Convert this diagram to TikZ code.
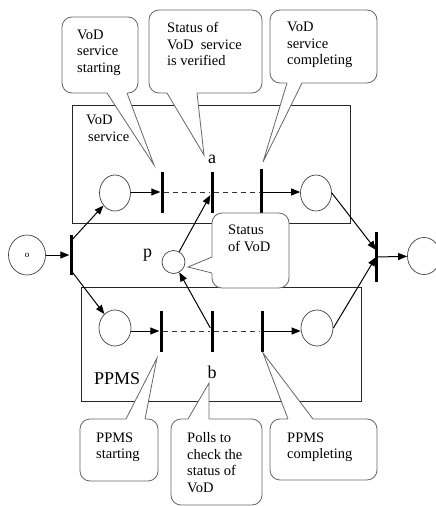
\documentclass[tikz,border=0pt]{standalone}
\usepackage{fontspec}
\setmainfont{Liberation Serif}
\usetikzlibrary{arrows.meta,calc,shapes.geometric}

\tikzset{
  place/.style={draw=black!75, ellipse, line width=0.7pt, inner sep=0pt,
                minimum width=31pt, minimum height=36pt},
  trans/.style={fill=black, rectangle, inner sep=0pt,
                minimum width=3pt, minimum height=41pt},
  arr/.style={-{Triangle[length=9pt,width=7pt]}, line width=1pt},
  link/.style={line width=1pt, black!80, dash pattern=on 5pt off 4pt},
  frame/.style={draw=black!85, line width=0.8pt},
  bubble/.style={draw=black!60, fill=white, line width=0.8pt, rounded corners=10pt},
  tail/.style={draw=black!60, line width=0.8pt},
  txt/.style={font=\fontsize{14.5}{16.5}\selectfont, align=left,
              anchor=north west, inner sep=0pt},
  big/.style={font=\fontsize{18}{20}\selectfont, inner sep=0pt}
}

\begin{document}
\begin{tikzpicture}[x=1pt,y=-1pt]
\useasboundingbox (0,0) rectangle (436,506);

% subsystem frames
\draw[frame] (72,105) rectangle (350,223);
\draw[frame] (81,287) rectangle (361,401);
\node[txt, anchor=north west] (vodlbl) at (86,115) {VoD\\\hspace{2pt}service};
\node[big, anchor=base west] (ppmslbl) at (94,384) {PPMS};

% places
\node[place, minimum width=37pt, minimum height=40pt] (pin) at (27,255)
  {\fontsize{9}{9}\selectfont o};
\node[place] (pu1) at (115,193) {};
\node[place] (pu2) at (316,193) {};
\node[place, minimum width=32pt] (pl1) at (115,328) {};
\node[place, minimum width=32pt] (pl2) at (317,328) {};
\node[place, minimum width=33pt, minimum height=37pt] (pout) at (424,256) {};
\node[place, ellipse, minimum width=23pt, minimum height=23pt] (p) at (173.5,262) {};

% transitions
\node[trans, minimum height=40pt] (tl) at (71,255) {};
\node[trans] (tu1) at (162,192) {};
\node[trans] (tu2) at (212,192) {};
\node[trans, minimum height=44pt] (tu3) at (261,191) {};
\node[trans] (tb1) at (161,331) {};
\node[trans] (tb2) at (212,331) {};
\node[trans] (tb3) at (262,331) {};
\node[trans, minimum height=50pt] (tr) at (376,257) {};

% arcs
\draw[arr] (pin) -- (tl);
\draw[arr] ($(tl.north)!0.15!(tl.south)$) -- (pu1);
\draw[arr] ($(tl.north)!0.88!(tl.south)$) -- (pl1);
\draw[arr] (pu1.east |- tu1) -- (tu1);
\draw[link] (tu1) -- (tu2) -- (tu3.center |- tu1);
\draw[arr] (tu3.center |- tu1) -- (pu2.west |- tu1);
\draw[arr] (pl1.east |- tb1) -- (tb1);
\draw[link] (tb1) -- (tb2) -- (tb3);
\draw[arr] (tb3) -- (pl2.west |- tb3);
\draw[arr] (pu2.east) -- ($(tr.north)!0.36!(tr.south)$);
\draw[arr] (pl2.east) -- ($(tr.north)!0.5!(tr.south)$);
\draw[arr] (tr) -- (pout);
\draw[arr] (p) -- (tu2);
\draw[arr] (tb2) -- (p);

% labels
\node[big, anchor=base] (la) at (212,163) {a};
\node[big, anchor=base] (lb) at (212,378) {b};
\node[big, anchor=base] (lp) at (147.5,257) {p};

% speech bubbles
% -- VoD service starting
\draw[bubble] (62,17) rectangle (138,93);
\fill[white] (107,89) -- (107,93) -- (154,165) -- (127,93) -- (127,89) -- cycle;
\draw[tail] (107,93) -- (154,165) -- (127,93);
\node[txt] (c1) at (77,29.5) {VoD\\service\\starting};

% -- status verified
\draw[bubble] (149,10) rectangle (262,93);
\fill[white] (167,89) -- (167,93) -- (204,155) -- (197,93) -- (197,89) -- cycle;
\draw[tail] (167,93) -- (204,155) -- (197,93);
\node[txt] (c2) at (167,22.5) {Status of\\VoD~~service\\is verified};

% -- VoD service completing
\draw[bubble] (270,10) rectangle (377,83);
\fill[white] (287,79) -- (287,83) -- (263,162) -- (302,83) -- (302,79) -- cycle;
\draw[tail] (287,83) -- (263,162) -- (302,83);
\node[txt] (c3) at (287,22) {VoD\\service\\completing};

% -- status of VoD
\draw[bubble] (212,213) rectangle (289,288);
\fill[white] (216,257) -- (212,257) -- (188,267) -- (212,273) -- (216,273) -- cycle;
\draw[tail] (212,257) -- (188,267) -- (212,273);
\node[txt] (c4) at (228,225) {Status\\of VoD};

% -- PPMS starting
\draw[bubble] (80,419) rectangle (158,481);
\fill[white] (126,423) -- (126,419) -- (157,358) -- (145,419) -- (145,423) -- cycle;
\draw[tail] (126,419) -- (157,358) -- (145,419);
\node[txt] (c5) at (96,432.5) {PPMS\\starting};

% -- polls
\draw[bubble] (171,419) rectangle (262,505);
\fill[white] (188,423) -- (188,419) -- (209,383) -- (209,419) -- (209,423) -- cycle;
\draw[tail] (188,419) -- (209,383) -- (209,419);
\node[txt] (c6) at (187,432.7) {Polls to\\check the\\status of\\VoD};

% -- PPMS completing
\draw[bubble] (270,419) rectangle (377,480);
\fill[white] (288,423) -- (288,419) -- (263,353) -- (313,419) -- (313,423) -- cycle;
\draw[tail] (288,419) -- (263,353) -- (313,419);
\node[txt] (c7) at (287,432.5) {PPMS\\completing};
\end{tikzpicture}
\end{document}
